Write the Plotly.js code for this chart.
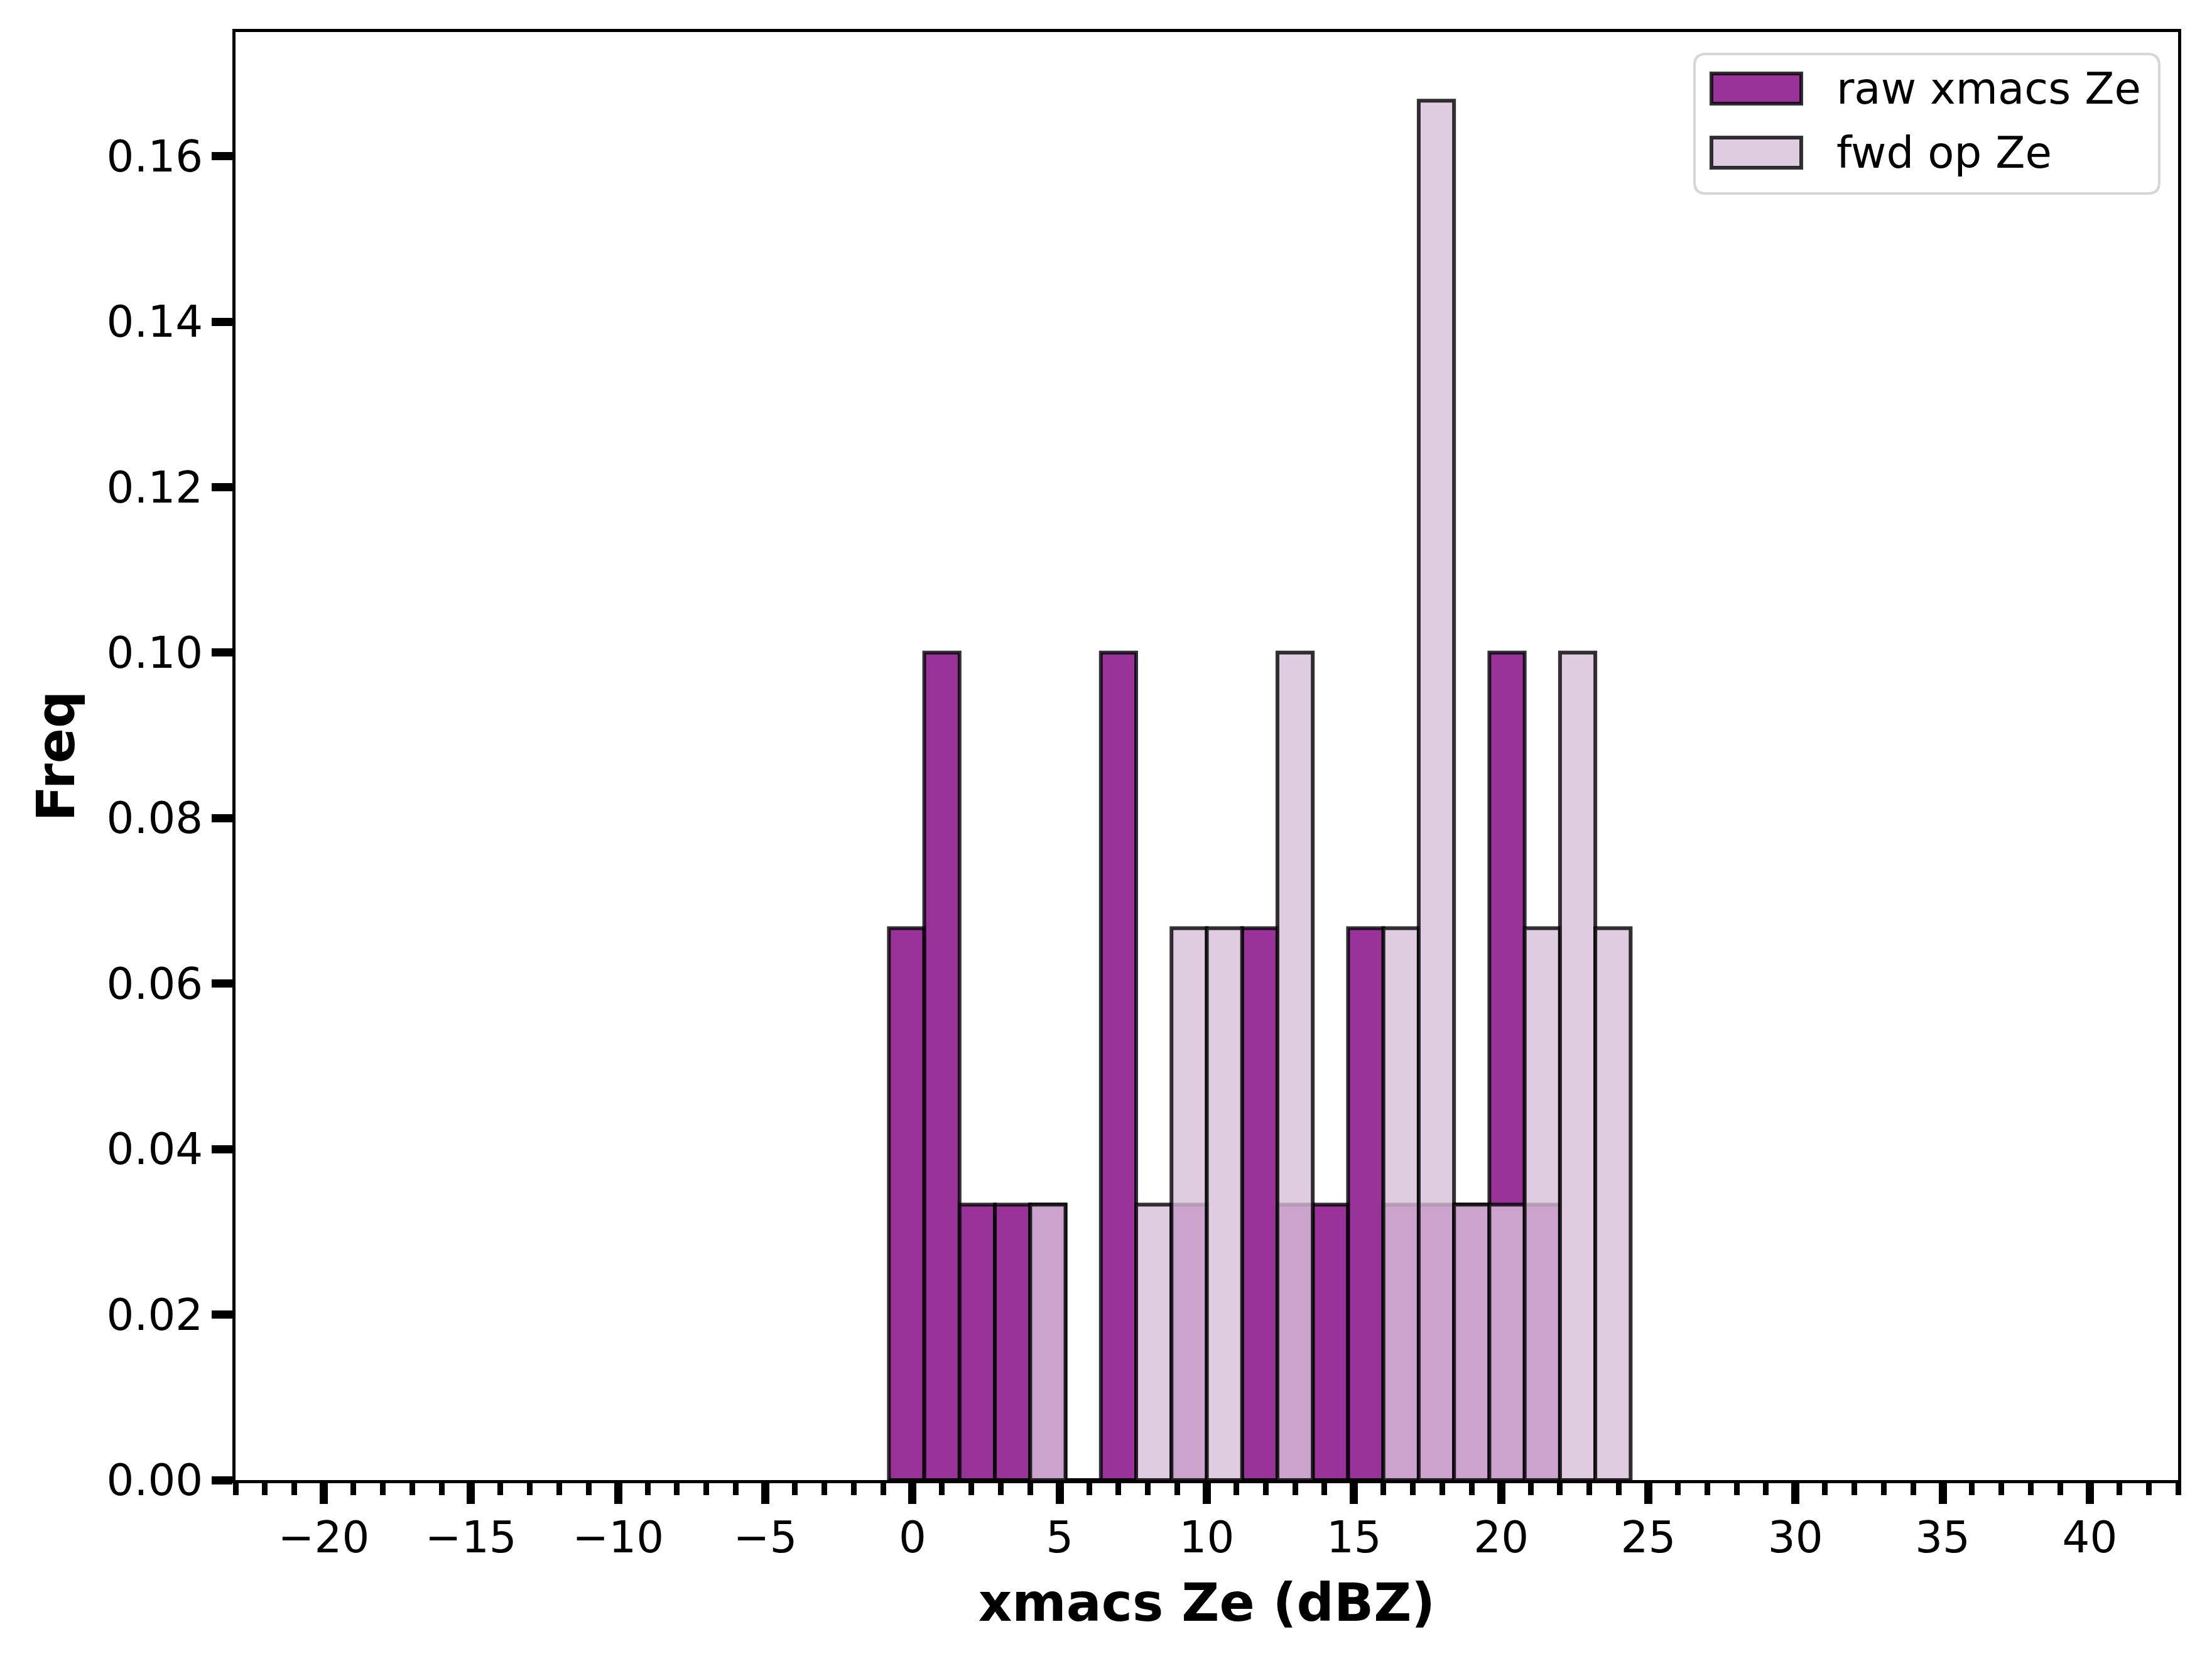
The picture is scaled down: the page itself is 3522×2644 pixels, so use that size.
<!DOCTYPE html>
<html>
<head>
<meta charset="utf-8">
<script src="https://cdn.plot.ly/plotly-3.0.1.min.js"></script>
<style>
  body { margin: 0; background: #fff; }
  #chart { width: 3522px; height: 2644px; }
</style>
</head>
<body>
<div id="chart"></div>
<script>
// histogram bins (dBZ), bin width 1.2
const binCenters = [-0.2, 1.0, 2.2, 3.4, 4.6, 5.8, 7.0, 8.2, 9.4, 10.6, 11.8,
                    13.0, 14.2, 15.4, 16.6, 17.8, 19.0, 20.2, 21.4, 22.6, 23.8];
const binWidth = 1.2;

// frequencies
const rawFreq = [0.0667, 0.1, 0.0333, 0.0333, 0.0333, 0, 0.1, 0, 0.0333, 0, 0.0667,
                 0.0333, 0.0333, 0.0667, 0.0333, 0.0333, 0.0333, 0.1, 0.0333, 0, 0];
const fwdFreq = [0, 0, 0, 0, 0.0333, 0, 0, 0.0333, 0.0667, 0.0667, 0,
                 0.1, 0, 0, 0.0667, 0.1667, 0.0333, 0.0333, 0.0667, 0.1, 0.0667];

const seriesNames = ['raw xmacs Ze', 'fwd op Ze'];
const seriesFill = ['rgba(128,0,128,0.8)', 'rgba(216,191,216,0.8)'];
const edgeColor = 'rgba(0,0,0,0.8)';

const W = 3522, H = 2644;
const M = {l: 375, r: 54, t: 51, b: 288};
const font = 'DejaVu Sans, sans-serif';

// pixel -> paper helpers for the hand-made legend
const px = x => (x - M.l) / (W - M.l - M.r);
const py = y => (H - M.b - y) / (H - M.t - M.b);

function roundRect(x0, y0, x1, y1, r) {
  const p = (x, y) => px(x) + ',' + py(y);
  return 'M' + p(x0 + r, y0) + ' L' + p(x1 - r, y0) + ' Q' + p(x1, y0) + ' ' + p(x1, y0 + r) +
         ' L' + p(x1, y1 - r) + ' Q' + p(x1, y1) + ' ' + p(x1 - r, y1) +
         ' L' + p(x0 + r, y1) + ' Q' + p(x0, y1) + ' ' + p(x0, y1 - r) +
         ' L' + p(x0, y0 + r) + ' Q' + p(x0, y0) + ' ' + p(x0 + r, y0) + ' Z';
}

const traces = [rawFreq, fwdFreq].map((vals, i) => ({
  type: 'bar',
  name: seriesNames[i],
  x: binCenters,
  y: vals,
  width: binWidth,
  marker: {color: seriesFill[i], line: {color: edgeColor, width: 6}},
  hoverinfo: 'x+y+name'
}));

// legend: box, swatches and labels
const shapes = [{
  type: 'path', xref: 'paper', yref: 'paper',
  path: roundRect(2698, 86, 3438, 308, 18),
  fillcolor: 'rgba(255,255,255,0.8)',
  line: {color: '#d6d6d6', width: 4}
}];
const annotations = [];
const rowY = [141, 243];
seriesNames.forEach((name, i) => {
  shapes.push({
    type: 'rect', xref: 'paper', yref: 'paper',
    x0: px(2725), x1: px(2868), y0: py(rowY[i] - 24), y1: py(rowY[i] + 24),
    fillcolor: seriesFill[i],
    line: {color: edgeColor, width: 6}
  });
  annotations.push({
    xref: 'paper', yref: 'paper', x: px(2922), y: py(rowY[i]),
    xanchor: 'left', yanchor: 'middle', showarrow: false,
    text: name, font: {family: font, size: 69, color: '#000'}
  });
});

const layout = {
  width: W, height: H,
  margin: M,
  paper_bgcolor: '#fff', plot_bgcolor: '#fff',
  barmode: 'overlay',
  bargap: 0,
  showlegend: false,
  font: {family: font, size: 69, color: '#000'},
  xaxis: {
    range: [-23, 43],
    tick0: 0, dtick: 5,
    ticks: 'outside', ticklen: 33, tickwidth: 13, tickcolor: '#000',
    minor: {tick0: 0, dtick: 1, ticks: 'outside', ticklen: 19, tickwidth: 9, tickcolor: '#000'},
    showline: true, linecolor: '#000', linewidth: 5, mirror: true,
    showgrid: false, zeroline: false,
    ticklabelstandoff: -6,
    tickfont: {family: font, size: 69, color: '#000'},
    title: {text: '<b>xmacs Ze (dBZ)</b>', font: {family: font, size: 83, color: '#000'}, standoff: 38}
  },
  yaxis: {
    range: [0, 0.175],
    tick0: 0, dtick: 0.02, tickformat: '.2f',
    ticks: 'outside', ticklen: 33, tickwidth: 13, tickcolor: '#000',
    showline: true, linecolor: '#000', linewidth: 5, mirror: true,
    showgrid: false, zeroline: false,
    tickfont: {family: font, size: 69, color: '#000'},
    title: {text: '<b>Freq</b>', font: {family: font, size: 83, color: '#000'}, standoff: 25}
  },
  shapes: shapes,
  annotations: annotations
};

Plotly.newPlot('chart', traces, layout, {displayModeBar: false, staticPlot: true});
</script>
</body>
</html>
